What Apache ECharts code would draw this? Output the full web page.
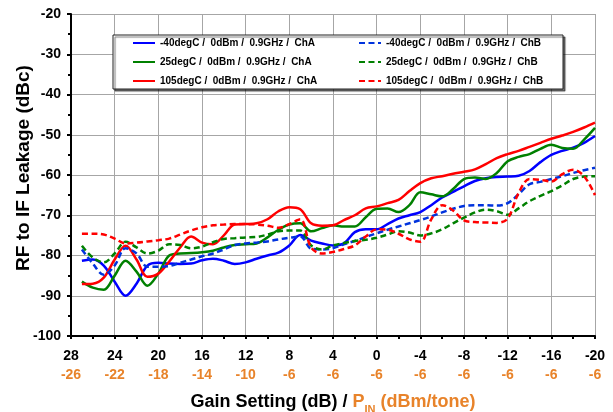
<!DOCTYPE html>
<html>
<head>
<meta charset="utf-8">
<script src="https://cdn.jsdelivr.net/npm/echarts@6/dist/echarts.min.js"></script>
<style>
  html, body { margin: 0; padding: 0; background: #fff; }
  #chart { width: 613px; height: 412px; }
</style>
</head>
<body>
<div id="chart"></div>
<script>
// Gain settings (dB), one measurement per step
const gains = [27, 26, 25, 24, 23, 22, 21, 20, 19, 18, 17, 16, 15, 14, 13, 12, 11, 10, 9, 8, 7, 6, 5, 4, 3, 2, 1, 0,
  -1, -2, -3, -4, -5, -6, -7, -8, -9, -10, -11, -12, -13, -14, -15, -16, -17, -18, -19, -20];

// Channel A leakage (dBc)
const chA_m40 = [-81.3, -81.0, -82.5, -86.5, -90.0, -87.0, -82.5, -81.8, -82.0, -82.1, -82.0, -81.2, -80.8, -81.3, -82.1, -81.7,
  -80.8, -80.0, -79.3, -77.5, -74.9, -76.3, -77.0, -77.5, -77.0, -74.2, -73.5, -73.5, -72.2, -70.8, -70.0, -69.2,
  -67.5, -65.6, -64.2, -62.8, -61.5, -60.8, -60.5, -60.4, -60.2, -59.0, -56.8, -55.0, -54.0, -53.2, -52.0, -50.3];
const chA_25 = [-86.5, -88.0, -88.5, -85.0, -81.3, -84.0, -87.5, -84.5, -80.0, -79.5, -79.4, -79.2, -78.8, -78.0, -77.4, -77.2,
  -77.0, -75.5, -73.6, -72.3, -72.0, -74.0, -73.2, -72.5, -72.8, -72.8, -70.5, -68.4, -68.3, -69.2, -67.5, -64.3,
  -64.8, -65.3, -63.5, -61.0, -60.6, -61.0, -59.5, -56.6, -55.5, -54.8, -53.5, -52.5, -53.3, -53.5, -51.2, -48.3];
const chA_105 = [-87.1, -87.0, -85.5, -81.0, -77.6, -81.0, -85.3, -84.5, -81.5, -78.0, -75.3, -76.8, -77.2, -75.0, -72.3, -72.2,
  -72.0, -71.0, -69.0, -68.0, -68.5, -72.0, -72.6, -72.5, -71.2, -70.0, -68.3, -67.8, -67.0, -66.2, -64.0, -62.0,
  -60.8, -60.3, -59.7, -59.2, -58.6, -57.3, -55.8, -54.8, -54.0, -53.0, -52.0, -51.0, -50.2, -49.3, -48.2, -47.0];

// Channel B leakage (dBc)
const chB_m40 = [-78.5, -82.0, -84.8, -82.5, -78.2, -79.5, -82.8, -82.8, -82.6, -81.8, -81.0, -80.2, -79.5, -78.5, -77.4, -77.0,
  -76.8, -76.5, -76.0, -75.6, -75.3, -78.3, -78.5, -78.2, -77.2, -76.4, -75.4, -74.5, -73.6, -72.8, -72.0, -71.2,
  -70.3, -69.3, -68.4, -67.7, -67.5, -67.5, -67.6, -67.0, -64.8, -62.3, -61.7, -61.0, -60.3, -59.5, -58.8, -58.2];
const chB_25 = [-77.6, -80.5, -81.7, -79.5, -76.6, -78.0, -79.5, -78.8, -77.2, -77.4, -78.2, -77.8, -76.7, -75.9, -75.7, -75.5,
  -75.4, -74.8, -74.0, -73.8, -73.8, -77.5, -78.5, -77.5, -76.9, -76.4, -76.1, -75.6, -74.8, -74.0, -74.3, -75.0,
  -74.5, -73.5, -72.0, -70.6, -69.3, -68.6, -69.0, -69.9, -68.3, -66.5, -65.2, -64.0, -62.6, -61.0, -60.4, -60.3];
const chB_105 = [-74.6, -74.6, -74.8, -75.8, -77.0, -76.8, -76.5, -76.2, -75.8, -74.8, -73.8, -73.0, -72.5, -72.3, -72.2, -72.2,
  -72.3, -72.6, -73.1, -72.2, -71.0, -78.0, -79.5, -79.1, -78.4, -77.5, -75.3, -73.5, -73.6, -74.6, -76.0, -76.6,
  -71.0, -67.5, -68.8, -71.3, -71.7, -71.8, -71.9, -70.8, -64.5, -61.0, -61.2, -61.6, -59.8, -58.7, -60.3, -65.0];

// Axis tick labels: gain setting and matching input power per tone
const gainTicks = [28, 24, 20, 16, 12, 8, 4, 0, -4, -8, -12, -16, -20];
const pinTicks = [-26, -22, -18, -14, -10, -6, -6, -6, -6, -6, -6, -6, -6];
const yTicks = [-100, -90, -80, -70, -60, -50, -40, -30, -20];

const FONT = '"Liberation Sans", Arial, sans-serif';
const ORANGE = '#E8832A';

function pairs(vals) {
  return gains.map((g, i) => [g, vals[i]]);
}

const seriesDefs = [
  { name: '-40degC /  0dBm /  0.9GHz /  ChA', data: chA_m40, color: '#0000FF', dashed: false },
  { name: '25degC /  0dBm /  0.9GHz /  ChA', data: chA_25, color: '#008000', dashed: false },
  { name: '105degC /  0dBm /  0.9GHz /  ChA', data: chA_105, color: '#FF0000', dashed: false },
  { name: '-40degC /  0dBm /  0.9GHz /  ChB', data: chB_m40, color: '#0033DD', dashed: true },
  { name: '25degC /  0dBm /  0.9GHz /  ChB', data: chB_25, color: '#008000', dashed: true },
  { name: '105degC /  0dBm /  0.9GHz /  ChB', data: chB_105, color: '#FF0000', dashed: true }
];

function legendAt(left, names) {
  return {
    orient: 'vertical',
    left: left,
    top: 38,
    itemWidth: 22,
    itemHeight: 12,
    itemGap: 9,
    padding: 0,
    data: names,
    itemStyle: { opacity: 0 },
    textStyle: { fontFamily: FONT, fontWeight: 'bold', fontSize: 10, color: '#000' }
  };
}

const chart = echarts.init(document.getElementById('chart'), null, { renderer: 'canvas' });

chart.setOption({
  animation: false,
  backgroundColor: '#fff',
  grid: { left: 71, right: 18, top: 14, bottom: 76, containLabel: false, outerBoundsMode: 'none' },
  graphic: [{
    type: 'rect',
    z: 3,
    shape: { x: 113, y: 35, width: 450, height: 54 },
    style: { fill: '#fff', stroke: '#222', lineWidth: 1, shadowColor: 'rgba(0,0,0,0.55)', shadowOffsetX: 2, shadowOffsetY: 2, shadowBlur: 1 }
  }],
  legend: [
    legendAt(132, seriesDefs.slice(0, 3).map(s => s.name)),
    legendAt(358, seriesDefs.slice(3).map(s => s.name))
  ],
  xAxis: {
    type: 'value',
    inverse: true,
    min: -20,
    max: 28,
    interval: 4,
    name: '{k|Gain Setting (dB) / }{o|P}{s|IN}{o| (dBm/tone)}',
    nameLocation: 'middle',
    nameGap: 57,
    nameTextStyle: {
      rich: {
        k: { fontFamily: FONT, fontWeight: 'bold', fontSize: 18, color: '#000' },
        o: { fontFamily: FONT, fontWeight: 'bold', fontSize: 18, color: ORANGE },
        s: { fontFamily: FONT, fontWeight: 'bold', fontSize: 11, color: ORANGE, verticalAlign: 'bottom', padding: [0, 0, -4, 0] }
      }
    },
    axisLine: { show: true, onZero: false, lineStyle: { color: '#000', width: 2 } },
    axisTick: { show: true, inside: false, length: 3, lineStyle: { color: '#000', width: 2 } },
    minorTick: { show: true, splitNumber: 2, length: 3, lineStyle: { color: '#000', width: 2 } },
    splitLine: { show: true, lineStyle: { color: '#a6a6a6', width: 1 } },
    axisLabel: {
      margin: 11,
      formatter: function (v) {
        const i = gainTicks.indexOf(v);
        return '{g|' + gainTicks[i] + '}\n{p|' + pinTicks[i] + '}';
      },
      rich: {
        g: { fontFamily: FONT, fontWeight: 'bold', fontSize: 14, color: '#000', lineHeight: 19 },
        p: { fontFamily: FONT, fontWeight: 'bold', fontSize: 14, color: ORANGE, lineHeight: 19 }
      }
    }
  },
  yAxis: {
    type: 'value',
    min: -100,
    max: -20,
    interval: 10,
    name: 'RF to IF Leakage (dBc)',
    nameLocation: 'middle',
    nameGap: 38,
    nameMoveOverlap: false,
    nameTextStyle: { fontFamily: FONT, fontWeight: 'bold', fontSize: 19, color: '#000', padding: [0, 0, 0, 14] },
    axisLine: { show: true, onZero: false, lineStyle: { color: '#000', width: 2 } },
    axisTick: { show: true, inside: false, length: 4, lineStyle: { color: '#000', width: 2 } },
    minorTick: { show: true, splitNumber: 2, length: 3, lineStyle: { color: '#000', width: 2 } },
    splitLine: { show: true, lineStyle: { color: '#a6a6a6', width: 1 } },
    axisLabel: {
      margin: 10,
      fontFamily: FONT, fontWeight: 'bold', fontSize: 14, color: '#000',
      formatter: v => (yTicks.indexOf(v) >= 0 ? String(v) : '')
    }
  },
  series: seriesDefs.map(s => ({
    name: s.name,
    type: 'line',
    data: pairs(s.data),
    smooth: 0.35,
    symbol: 'none',
    z: 2,
    color: s.color,
    lineStyle: { color: s.color, width: 2.5, type: s.dashed ? [6, 3.5] : 'solid' }
  }))
});
</script>
</body>
</html>
